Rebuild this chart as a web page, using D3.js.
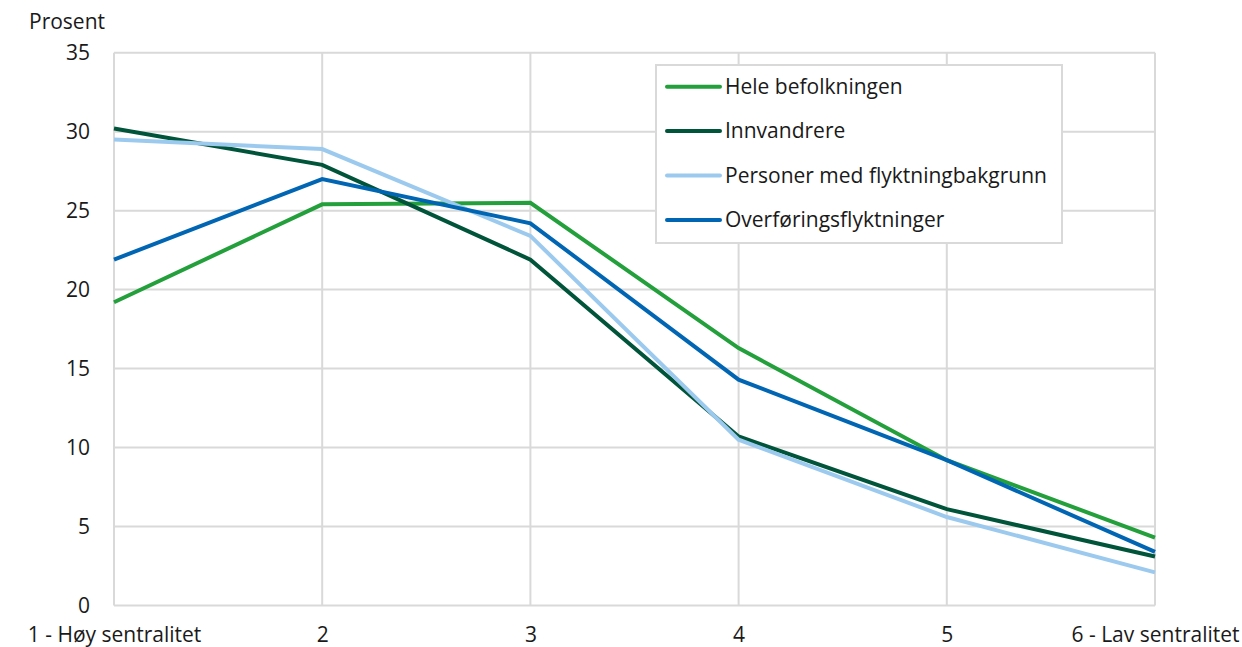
<!DOCTYPE html>
<html><head><meta charset="utf-8">
<script src="https://cdn.jsdelivr.net/npm/d3@7/dist/d3.min.js"></script>
<style>
html,body{margin:0;padding:0;background:#fff;}
text{font-family:"Open Sans",sans-serif;fill:#1a1a1a;}
</style></head>
<body><svg id="c" width="1242" height="647"></svg>
<script>
const categories = ["1 - Høy sentralitet","2","3","4","5","6 - Lav sentralitet"];
const seriesNames = ["Hele befolkningen","Innvandrere","Personer med flyktningbakgrunn","Overføringsflyktninger"];
const heleBefolkningen = [19.2, 25.4, 25.5, 16.3, 9.2, 4.3];
const innvandrere = [30.2, 27.9, 21.9, 10.7, 6.1, 3.1];
const flyktningbakgrunn = [29.5, 28.9, 23.4, 10.5, 5.6, 2.1];
const overforingsflyktninger = [21.9, 27.0, 24.2, 14.3, 9.2, 3.4];
const yTicks = [0,5,10,15,20,25,30,35];
const colors = ["#23a03b","#00543a","#9ccaee","#0066b3"];

const seriesValues = [heleBefolkningen, innvandrere, flyktningbakgrunn, overforingsflyktninger];
const svg = d3.select("#c");
const L=114, R=1155, T=52.7, B=605.5;
const FS = 21;
const x = d3.scalePoint().domain(categories).range([L,R]).padding(0);
const y = d3.scaleLinear().domain([0,35]).range([B,T]);

// horizontal gridlines
svg.append("g").selectAll("line").data(yTicks).join("line")
  .attr("x1",L).attr("x2",R).attr("y1",d=>y(d)).attr("y2",d=>y(d))
  .attr("stroke","#d9d9d9").attr("stroke-width",2);
// vertical gridlines
svg.append("g").selectAll("line").data(categories).join("line")
  .attr("x1",d=>x(d)).attr("x2",d=>x(d)).attr("y1",T).attr("y2",B)
  .attr("stroke","#d9d9d9").attr("stroke-width",2);

// y axis labels
const ya = svg.append("g").attr("transform",`translate(${L},0)`)
  .call(d3.axisLeft(y).tickValues(yTicks).tickSize(0).tickPadding(24));
ya.select(".domain").remove();
ya.selectAll("text").attr("font-size",FS).attr("font-family","Open Sans").attr("fill","#1a1a1a");

// x axis labels
const xa = svg.append("g").attr("transform",`translate(0,${B})`)
  .call(d3.axisBottom(x).tickSize(0).tickPadding(22));
xa.select(".domain").remove();
xa.selectAll("text").attr("font-size",FS).attr("font-family","Open Sans").attr("fill","#1a1a1a");

svg.append("text").attr("x",29).attr("y",29).attr("font-size",FS).text("Prosent");

// lines
const line = d3.line().x((d,i)=>x(categories[i])).y(d=>y(d));
seriesValues.forEach((vals,i)=>{
  svg.append("path").datum(vals).attr("d",line).attr("fill","none")
    .attr("stroke",colors[i]).attr("stroke-width",4).attr("stroke-linejoin","miter");
});

// legend
const lg = svg.append("g");
lg.append("rect").attr("x",656).attr("y",65).attr("width",406).attr("height",178)
  .attr("fill","#fff").attr("stroke","#d9d9d9").attr("stroke-width",2);
seriesNames.forEach((n,i)=>{
  const yy = 86.7 + i*44.4;
  lg.append("line").attr("x1",667).attr("x2",720).attr("y1",yy).attr("y2",yy)
    .attr("stroke",colors[i]).attr("stroke-width",4).attr("stroke-linecap","round");
  lg.append("text").attr("x",725).attr("y",yy).attr("dy","0.35em").attr("font-size",FS).text(n);
});
</script></body></html>
